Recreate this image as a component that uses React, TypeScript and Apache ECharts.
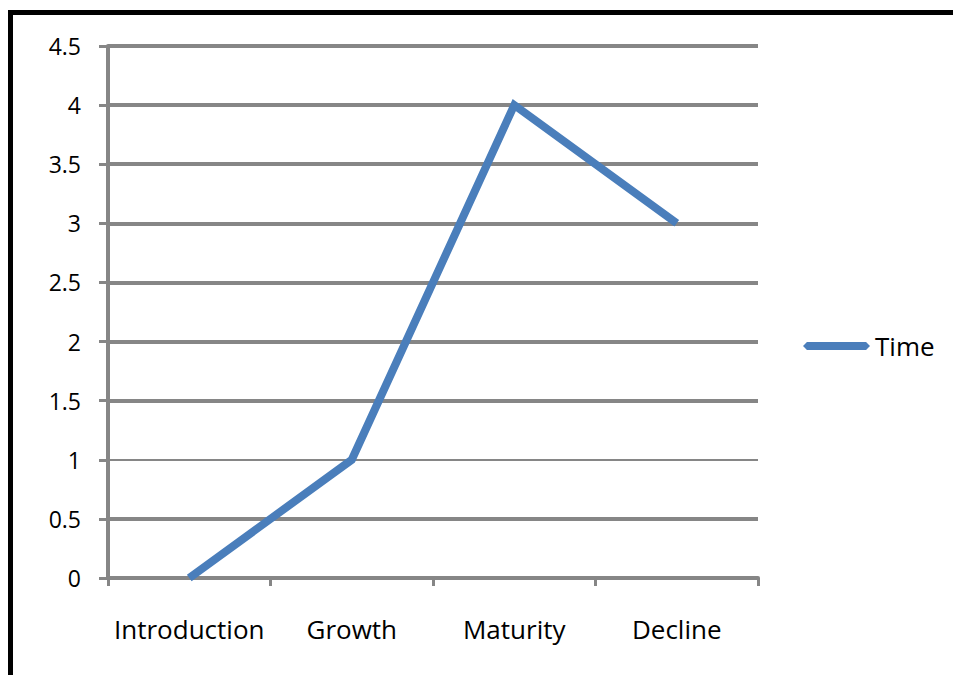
import React, { useEffect, useRef } from "react";
import * as echarts from "echarts";

const categories = ["Introduction", "Growth", "Maturity", "Decline"];
const timeValues = [0, 1, 4, 3];
const seriesName = "Time";

export default function App() {
  const ref = useRef<HTMLDivElement>(null);
  useEffect(() => {
    if (!ref.current) return;
    const chart = echarts.init(ref.current, null, { renderer: "svg" });
    const gray = "#868686";
    const font = "'Open Sans', sans-serif";
    const gridColors = [gray, gray, "transparent", gray, gray, gray, gray, gray, gray, gray];
    chart.setOption({
      animation: false,
      backgroundColor: "#ffffff",
      textStyle: { fontFamily: font },
      graphic: [
        { type: "rect", shape: { x: 8, y: 10, width: 945, height: 5 }, style: { fill: "#000" }, z: 100 },
        { type: "rect", shape: { x: 8, y: 10, width: 5, height: 665 }, style: { fill: "#000" }, z: 100 },
      ],
      grid: { left: 108, right: 195, top: 46, bottom: 97, containLabel: false },
      legend: {
        orient: "vertical",
        left: 798,
        top: 328,
        itemWidth: 67,
        itemHeight: 8,
        data: [
          {
            name: seriesName,
            icon: "path://M0,4 L4,0 L64,0 L68,4 L64,8 L4,8 Z",
          },
        ],
        textStyle: { fontSize: 26, color: "#000", fontFamily: font },
      },
      xAxis: {
        type: "category",
        data: categories,
        boundaryGap: true,
        axisLine: { show: true, lineStyle: { color: gray, width: 4 } },
        axisTick: { show: true, length: 8, lineStyle: { color: gray, width: 3 }, interval: 0 },
        axisLabel: { fontSize: 26, color: "#000", margin: 38, interval: 0, fontFamily: font },
      },
      yAxis: {
        type: "value",
        min: 0,
        max: 4.5,
        interval: 0.5,
        axisLine: { show: true, lineStyle: { color: gray, width: 4 } },
        axisTick: { show: true, length: 9, lineStyle: { color: gray, width: 3 } },
        axisLabel: { fontSize: 23, color: "#000", margin: 27, fontFamily: font },
        splitLine: { show: true, lineStyle: { color: gridColors, width: 4 } },
      },
      series: [
        {
          name: seriesName,
          type: "line",
          data: timeValues,
          symbol: "none",
          lineStyle: { color: "#4a7ebb", width: 8, join: "miter" },
          itemStyle: { color: "#4a7ebb" },
          markLine: {
            silent: true,
            symbol: "none",
            label: { show: false },
            lineStyle: { color: gray, width: 2, type: "solid" },
            data: [{ yAxis: 1 }],
            z: 1,
          },
        },
      ],
    });
    return () => chart.dispose();
  }, []);
  return (
    <div
      ref={ref}
      style={{ position: "fixed", left: 0, top: 0, width: 953, height: 675 }}
    />
  );
}
